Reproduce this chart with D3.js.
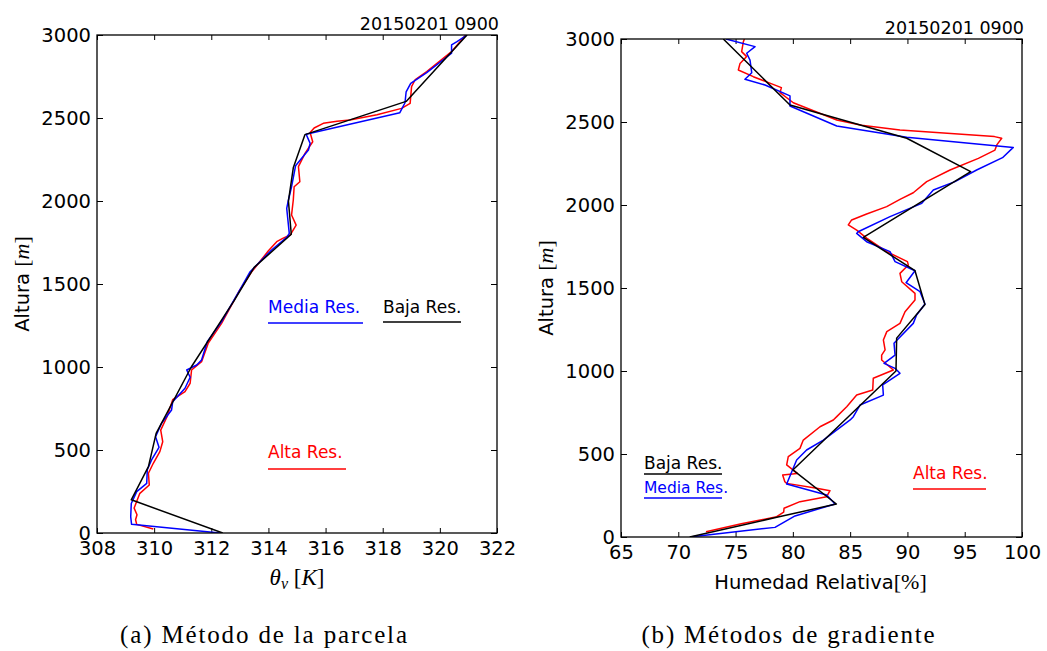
<!DOCTYPE html>
<html>
<head>
<meta charset="utf-8">
<script src="https://cdn.jsdelivr.net/npm/d3@7"></script>
<style>
  html, body { margin: 0; padding: 0; background: #fff; }
  svg { display: block; }
  .tick text { font-family: "DejaVu Sans", sans-serif; font-size: 19.5px; fill: #000; }
  .tick line { stroke: #000; stroke-width: 1; }
</style>
</head>
<body>
<svg id="fig" width="1047" height="651"></svg>
<script>
// ---- Virtual potential temperature profiles (K, m) ----
const thetaBaja = [[312.4,0],[309.2,200],[309.8,400],[310.07,600],[311.3,1000],[312.8,1400],[313.5,1600],
  [314.8,1800],[314.7,2000],[314.87,2200],[315.28,2400],[318.82,2600],[320.95,3000]];
const thetaMedia = [[312.3,0],[309.21,52],[309.18,98],[309.2,178],[309.39,249],[309.74,299],[309.76,381],
  [309.91,440],[310.17,516],[310.05,580],[310.26,661],[310.61,741],[310.65,791],[311.08,872],[311.26,938],
  [311.14,982],[311.49,1012],[311.66,1042],[311.86,1152],[312.36,1273],[313.0,1464],[313.36,1574],
  [314.11,1705],[314.64,1781],[314.73,1805],[314.64,1956],[314.7,2006],[314.81,2086],[314.95,2212],
  [315.4,2307],[315.46,2347],[315.32,2402],[318.6,2532],[318.78,2592],[318.82,2658],[318.98,2709],
  [319.54,2773],[320.41,2890],[320.41,2940],[320.6,2960],[320.95,3000]];
const thetaAlta = [[309.97,24],[309.39,52],[309.35,80],[309.4,110],[309.3,150],[309.5,239],[309.83,289],
  [309.8,360],[309.97,420],[310.2,490],[310.3,550],[310.23,620],[310.45,700],[310.65,803],[311.08,852],
  [311.26,902],[311.31,982],[311.66,1032],[311.89,1142],[312.36,1263],[313.0,1464],[313.4,1570],
  [314.0,1700],[314.29,1755],[314.5,1775],[314.76,1795],[314.97,1855],[314.81,1916],[314.87,2006],
  [314.9,2086],[315.1,2116],[315.05,2207],[315.28,2287],[315.55,2357],[315.46,2412],[315.6,2440],
  [315.92,2468],[316.4,2480],[316.85,2488],[317.8,2520],[318.66,2558],[318.96,2588],[319.01,2689],
  [319.13,2729],[319.54,2779],[320.41,2900],[320.76,2970],[320.9,3000]];

// ---- Relative humidity profiles (%, m) ----
const rhBaja = [[71.0,0],[78.6,119],[83.8,199],[80.0,404],[89.0,1000],[89.06,1198],[91.53,1400],
  [90.66,1604],[86.15,1805],[95.52,2201],[89.94,2402],[79.75,2602],[73.93,3000]];
const rhMedia = [[71.02,0],[78.44,58],[80.19,127],[83.68,199],[82.95,253],[79.46,319],[80.33,464],
  [81.2,524],[82.66,584],[85.0,705],[85.28,725],[85.86,795],[87.9,855],[87.84,916],[89.35,986],
  [88.92,1016],[87.96,1046],[88.92,1096],[88.83,1167],[89.1,1187],[90.51,1287],[90.8,1337],
  [91.53,1404],[91.1,1478],[89.88,1532],[90.66,1604],[88.92,1659],[88.48,1719],[86.44,1779],
  [85.57,1829],[85.7,1839],[88.48,1930],[91.25,2010],[92.26,2090],[94.15,2141],[96.04,2211],
  [98.3,2285],[99.24,2347],[89.94,2408],[83.83,2476],[79.75,2596],[79.75,2657],[77.57,2723],
  [75.82,2757],[76.41,2797],[76.26,2873],[75.97,2914],[76.7,2954],[74.16,3000]];
const rhAlta = [[72.42,32],[75.5,80],[78.59,122],[79.2,150],[79.23,173],[80.62,213],[82.95,243],
  [83.24,279],[82.08,293],[79.46,323],[79.3,333],[79.11,373],[80.39,383],[79.46,434],[79.6,484],
  [80.62,534],[80.91,584],[82.37,664],[83.53,705],[83.83,725],[84.7,785],[85.57,855],[86.97,886],
  [87.02,956],[88.77,1006],[87.75,1066],[87.75,1096],[88.05,1127],[87.9,1187],[88.2,1237],
  [89.35,1287],[89.79,1357],[90.66,1428],[90.66,1468],[89.5,1538],[89.35,1588],[90.08,1638],
  [90.0,1659],[88.19,1719],[86.44,1800],[85.57,1849],[84.84,1880],[85.13,1910],[86.44,1946],
  [88.19,1990],[89.35,2034],[90.51,2074],[91.68,2141],[93.72,2211],[96.19,2281],[97.64,2331],
  [97.8,2362],[98.23,2402],[97.6,2412],[89.35,2452],[86.0,2480],[83.83,2512],[80.04,2616],
  [78.88,2677],[79.0,2707],[77.66,2743],[76.55,2773],[75.24,2813],[75.39,2853],[75.97,2894],
  [75.53,2924],[75.68,2984],[75.77,3000]];

// ---- Axis ticks and texts ----
const thetaTicks = [308, 310, 312, 314, 316, 318, 320, 322];
const rhTicks = [65, 70, 75, 80, 85, 90, 95, 100];
const heightTicks = [0, 500, 1000, 1500, 2000, 2500, 3000];
const titleText = "20150201 0900";
const captions = ["(a) Método de la parcela", "(b) Métodos de gradiente"];

const svg = d3.select("#fig");
const serif = "'Liberation Serif', 'DejaVu Serif', serif";
const sans = "'DejaVu Sans', sans-serif";

function drawPanel(opt) {
  const x = d3.scaleLinear().domain(opt.xDomain).range([opt.left, opt.right]);
  const y = d3.scaleLinear().domain([0, 3000]).range([opt.bottom, opt.top]);
  const g = svg.append("g");

  const clipId = "clip-" + opt.id;
  svg.append("clipPath").attr("id", clipId).append("rect")
    .attr("x", opt.left).attr("y", opt.top)
    .attr("width", opt.right - opt.left).attr("height", opt.bottom - opt.top);

  // ticks pointing inward on all four sides
  const gx = g.append("g").attr("transform", `translate(0,${opt.bottom})`)
    .call(d3.axisBottom(x).tickValues(opt.xTicks).tickSize(-5).tickPadding(8).tickFormat(d3.format("d")));
  const gxt = g.append("g").attr("transform", `translate(0,${opt.top})`)
    .call(d3.axisTop(x).tickValues(opt.xTicks).tickSize(-5).tickFormat(""));
  const gy = g.append("g").attr("transform", `translate(${opt.left},0)`)
    .call(d3.axisLeft(y).tickValues(heightTicks).tickSize(-6).tickPadding(6).tickFormat(d3.format("d")));
  const gyr = g.append("g").attr("transform", `translate(${opt.right},0)`)
    .call(d3.axisRight(y).tickValues(heightTicks).tickSize(-6).tickFormat(""));
  [gx, gxt, gy, gyr].forEach(a => a.select(".domain").remove());
  gx.selectAll("text").attr("dy", "0.72em");

  // data lines
  const line = d3.line().x(d => x(d[0])).y(d => y(d[1]));
  const lg = g.append("g").attr("clip-path", `url(#${clipId})`);
  opt.series.forEach(s => {
    lg.append("path").datum(s.data).attr("d", line)
      .attr("fill", "none").attr("stroke", s.color).attr("stroke-width", 1.5)
      .attr("stroke-linejoin", "round");
  });

  // frame
  g.append("rect").attr("x", opt.left).attr("y", opt.top)
    .attr("width", opt.right - opt.left).attr("height", opt.bottom - opt.top)
    .attr("fill", "none").attr("stroke", "#000").attr("stroke-width", 1.3);

  // title
  g.append("text").attr("x", opt.right + 2).attr("y", opt.top - 5)
    .attr("text-anchor", "end").attr("font-family", sans).attr("font-size", 17.5)
    .text(titleText);

  // y label
  const yl = g.append("text")
    .attr("transform", `translate(${opt.left - 68},${(opt.top + opt.bottom) / 2}) rotate(-90)`)
    .attr("text-anchor", "middle").attr("font-size", 19.5);
  yl.append("tspan").attr("font-family", sans).text("Altura ");
  yl.append("tspan").attr("font-family", serif).attr("font-size", 22).text("[");
  yl.append("tspan").attr("font-family", serif).attr("font-size", 22).attr("font-style", "italic").text("m");
  yl.append("tspan").attr("font-family", serif).attr("font-size", 22).text("]");

  // x label
  const xl = g.append("text")
    .attr("x", (opt.left + opt.right) / 2 + opt.xLabelShift).attr("y", opt.bottom + 52)
    .attr("text-anchor", "middle");
  opt.xLabel(xl);

  // legend entries: text with a short line underneath
  opt.legend.forEach(l => {
    g.append("text").attr("x", l.x).attr("y", l.y).attr("fill", l.color)
      .attr("font-family", sans).attr("font-size", l.size).text(l.label);
    g.append("line").attr("x1", l.x).attr("x2", l.x2).attr("y1", l.ly).attr("y2", l.ly)
      .attr("stroke", l.color).attr("stroke-width", 1.5);
  });

  // caption
  svg.append("text").attr("x", opt.capX).attr("y", 643).attr("text-anchor", "middle")
    .attr("font-family", serif).attr("font-size", 25)
    .attr("textLength", opt.capW).attr("lengthAdjust", "spacing")
    .text(opt.caption);
}

drawPanel({
  id: "theta", left: 97, right: 497, top: 35, bottom: 533,
  xDomain: [308, 322], xTicks: thetaTicks, xLabelShift: 0,
  series: [
    { data: thetaAlta, color: "#ff0000" },
    { data: thetaMedia, color: "#0000ff" },
    { data: thetaBaja, color: "#000000" }
  ],
  xLabel: t => {
    t.attr("font-family", serif).attr("font-size", 23);
    t.append("tspan").attr("font-style", "italic").text("θ");
    t.append("tspan").attr("font-style", "italic").attr("font-size", 16).attr("dy", 4).text("v");
    t.append("tspan").attr("dy", -4).text(" [");
    t.append("tspan").attr("font-style", "italic").text("K");
    t.append("tspan").text("]");
  },
  legend: [
    { label: "Media Res.", color: "#0000ff", x: 268, y: 313, x2: 363, ly: 323, size: 17 },
    { label: "Baja Res.", color: "#000000", x: 383, y: 313, x2: 461, ly: 322, size: 17 },
    { label: "Alta Res.", color: "#ff0000", x: 268, y: 458, x2: 346, ly: 469, size: 17 }
  ],
  capX: 263.5, capW: 287, caption: captions[0]
});

drawPanel({
  id: "rh", left: 621, right: 1022, top: 39, bottom: 537,
  xDomain: [65, 100], xTicks: rhTicks, xLabelShift: -1,
  series: [
    { data: rhAlta, color: "#ff0000" },
    { data: rhMedia, color: "#0000ff" },
    { data: rhBaja, color: "#000000" }
  ],
  xLabel: t => {
    t.attr("font-size", 19.5);
    t.append("tspan").attr("font-family", sans).text("Humedad Relativa");
    t.append("tspan").attr("font-family", serif).attr("font-size", 22).text("[%]");
  },
  legend: [
    { label: "Baja Res.", color: "#000000", x: 644, y: 469, x2: 722, ly: 474, size: 17 },
    { label: "Media Res.", color: "#0000ff", x: 644, y: 493, x2: 722, ly: 498, size: 15.5 },
    { label: "Alta Res.", color: "#ff0000", x: 913, y: 479, x2: 986, ly: 489, size: 17 }
  ],
  capX: 788, capW: 293, caption: captions[1]
});
</script>
</body>
</html>
